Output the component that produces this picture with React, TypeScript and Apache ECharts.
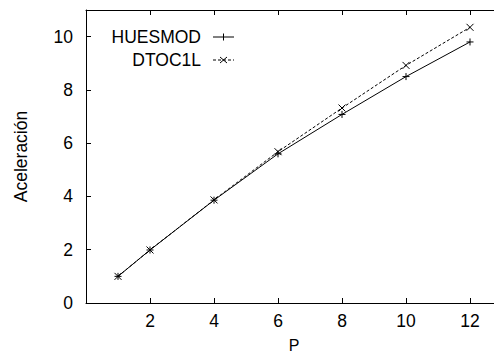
import React, { useEffect, useRef } from "react";
import * as echarts from "echarts";

const pValues = [1, 2, 4, 6, 8, 10, 12];
const huesmod = [1.0, 1.99, 3.86, 5.6, 7.08, 8.5, 9.8];
const dtoc1l = [1.0, 1.99, 3.87, 5.68, 7.32, 8.92, 10.35];
const seriesNames = ["HUESMOD", "DTOC1L"];

const PLUS = "path://M0,5L10,5M5,0L5,10";
const CROSS = "path://M0,0L10,10M0,10L10,0";

const FONT = "Liberation Sans, Arial, sans-serif";
const FS = 17.5;

export default function App() {
  const ref = useRef<HTMLDivElement>(null);
  useEffect(() => {
    if (!ref.current) return;
    const chart = echarts.init(ref.current, undefined, { renderer: "svg" });
    const axisCommon = {
      axisLine: { lineStyle: { color: "#000", width: 1 } },
      axisTick: { inside: true, length: 5, lineStyle: { color: "#000" } },
      splitLine: { show: false },
    };
    const legendY = [37, 60];
    const graphic: any[] = [];
    seriesNames.forEach((n, i) => {
      graphic.push({
        type: "text",
        x: 201,
        y: legendY[i],
        style: {
          text: n,
          align: "right",
          verticalAlign: "middle",
          font: `${FS}px ${FONT}`,
          fill: "#000",
        },
      });
      graphic.push({
        type: "line",
        shape: { x1: 213, y1: legendY[i], x2: 234, y2: legendY[i] },
        style: { stroke: "#000", lineWidth: 1, lineDash: i === 1 ? [3, 2] : null },
      });
      if (i === 0) {
        graphic.push({
          type: "line",
          shape: { x1: 223.5, y1: legendY[i] - 3.5, x2: 223.5, y2: legendY[i] + 3.5 },
          style: { stroke: "#000", lineWidth: 1 },
        });
      } else {
        graphic.push({
          type: "line",
          shape: { x1: 220, y1: legendY[i] - 3, x2: 227, y2: legendY[i] + 3 },
          style: { stroke: "#000", lineWidth: 1 },
        });
        graphic.push({
          type: "line",
          shape: { x1: 220, y1: legendY[i] + 3, x2: 227, y2: legendY[i] - 3 },
          style: { stroke: "#000", lineWidth: 1 },
        });
      }
    });
    chart.setOption({
      animation: false,
      backgroundColor: "#fff",
      textStyle: { fontFamily: FONT },
      grid: {
        left: 86,
        top: 10,
        width: 416,
        height: 293,
        containLabel: false,
        outerBoundsMode: "none",
      },
      xAxis: [
        {
          type: "value",
          min: 0,
          max: 13,
          interval: 2,
          position: "bottom",
          name: "P",
          nameLocation: "middle",
          nameGap: 34,
          nameTextStyle: {
            fontSize: 16,
            lineHeight: 16,
            color: "#000",
            fontFamily: FONT,
          },
          axisLabel: {
            fontSize: FS,
            color: "#000",
            margin: 9,
            fontFamily: FONT,
            showMaxLabel: false,
            formatter: (v: number) => (v === 0 || v > 12 ? "" : String(v)),
          },
          ...axisCommon,
        },
        {
          type: "value",
          min: 0,
          max: 13,
          interval: 2,
          position: "top",
          axisLabel: { show: false },
          ...axisCommon,
        },
      ],
      yAxis: [
        {
          type: "value",
          min: 0,
          max: 11,
          interval: 2,
          name: "Aceleración",
          nameLocation: "middle",
          nameGap: 56,
          nameTextStyle: { fontSize: FS, color: "#000", fontFamily: FONT },
          axisLabel: {
            fontSize: FS,
            color: "#000",
            margin: 13,
            fontFamily: FONT,
            showMaxLabel: false,
            formatter: (v: number) => (v > 10 ? "" : String(v)),
          },
          ...axisCommon,
        },
      ],
      series: [
        {
          name: seriesNames[0],
          type: "line",
          data: pValues.map((p, i) => [p, huesmod[i]]),
          symbol: PLUS,
          symbolSize: 7,
          itemStyle: { color: "none", borderColor: "#000", borderWidth: 1 },
          lineStyle: { color: "#000", width: 1 },
          z: 3,
        },
        {
          name: seriesNames[1],
          type: "line",
          data: pValues.map((p, i) => [p, dtoc1l[i]]),
          symbol: CROSS,
          symbolSize: 7,
          itemStyle: { color: "none", borderColor: "#000", borderWidth: 1 },
          lineStyle: { color: "#000", width: 1, type: [3, 2] },
          z: 2,
        },
      ],
      graphic,
    });
    return () => chart.dispose();
  }, []);
  return (
    <div
      ref={ref}
      style={{ position: "absolute", left: 0, top: 0, width: 494, height: 354 }}
    />
  );
}
